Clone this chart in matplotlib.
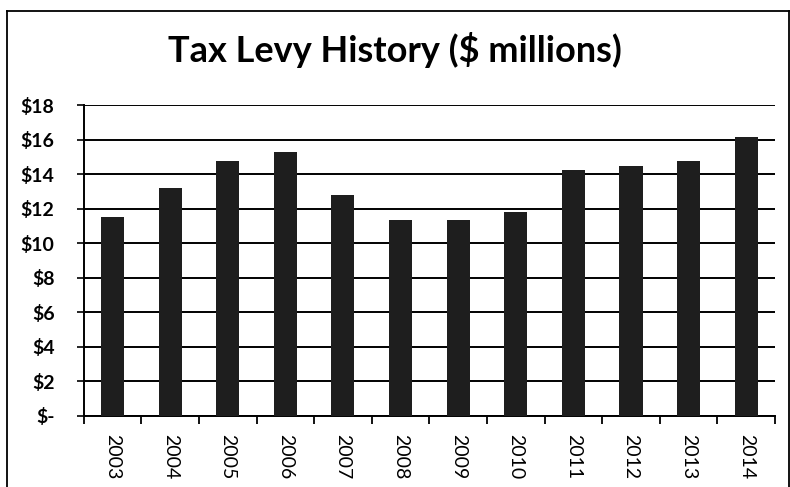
import matplotlib.pyplot as plt
from matplotlib.lines import Line2D

# values ($ millions)
years = ['2003', '2004', '2005', '2006', '2007', '2008',
         '2009', '2010', '2011', '2012', '2013', '2014']
levy = [11.5, 13.2, 14.75, 15.3, 12.8, 11.35, 11.35, 11.8, 14.25, 14.5, 14.75, 16.15]
y_ticks = [0, 2, 4, 6, 8, 10, 12, 14, 16, 18]
y_labels = ['$-', '$2', '$4', '$6', '$8', '$10', '$12', '$14', '$16', '$18']

plt.rcParams['font.family'] = ['Lato', 'DejaVu Sans']

fig = plt.figure(figsize=(7.9, 4.87), dpi=100)
ax = fig.add_axes([0.106, 0.146, 0.875, 0.638])

x = list(range(len(years)))
ax.bar(x, levy, width=0.4, color='#1e1e1e', zorder=3)

ax.set_xlim(-0.5, len(years) - 0.5)
ax.set_ylim(0, 18)
ax.set_yticks(y_ticks)
ax.set_yticklabels(y_labels, fontsize=14, fontweight='bold')
ax.yaxis.grid(True, color='black', linewidth=1.4, zorder=0)

# category labels between boundary ticks, like an Excel category axis
ax.set_xticks(x)
ax.set_xticklabels(years, rotation=-90, fontsize=14)
ax.tick_params(axis='x', length=0, pad=13)
ax.set_xticks([i - 0.5 for i in range(len(years) + 1)], minor=True)
ax.tick_params(axis='x', which='minor', length=6, width=1.3, direction='out')
ax.tick_params(axis='y', length=5, width=1.2, direction='out', pad=16)

for side in ['top', 'right']:
    ax.spines[side].set_visible(False)
ax.spines['left'].set_linewidth(1.4)
ax.spines['bottom'].set_linewidth(1.4)

fig.text(0.5, 0.897, 'Tax Levy History ($ millions)', ha='center', va='center',
         fontsize=26, fontweight='bold')

# outer chart border
bx0, bx1, by1 = 7 / 790, 789 / 790, 1 - 11 / 487
fig.add_artist(Line2D([bx0, bx0], [0, by1], color='black', linewidth=1.3))
fig.add_artist(Line2D([bx0, bx1], [by1, by1], color='black', linewidth=1.3))
fig.add_artist(Line2D([bx1, bx1], [0, by1], color='black', linewidth=1.3))

fig.savefig('out.png', dpi=100)
